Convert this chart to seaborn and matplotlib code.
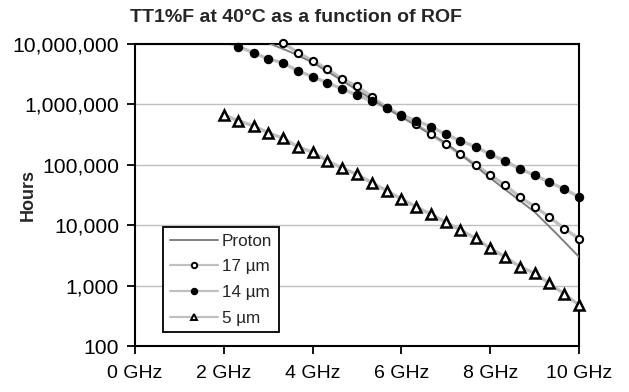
import matplotlib
matplotlib.use("Agg")
import matplotlib.pyplot as plt
from matplotlib.lines import Line2D
from matplotlib.ticker import FuncFormatter, FixedLocator, NullLocator
import seaborn as sns
import pandas as pd
import numpy as np

# ---- data ----
ghz_proton = [2.5, 3.0, 3.5, 4.0, 4.5, 5.0, 5.5, 6.0, 6.5, 7.0, 7.5, 8.0, 8.5, 9.0, 9.5, 10.0]
hours_proton = [19e6, 10.4e6, 7.38e6, 4.94e6, 2.95e6, 1.73e6, 1.02e6, 618e3, 377e3,
                230e3, 120e3, 60.4e3, 31.6e3, 16.6e3, 7.15e3, 2.99e3]

ghz_17 = [3.0, 3.33, 3.67, 4.0, 4.33, 4.67, 5.0, 5.33, 5.67, 6.0, 6.33, 6.67, 7.0,
          7.33, 7.67, 8.0, 8.33, 8.67, 9.0, 9.33, 9.67, 10.0]
hours_17 = [14e6, 10.5e6, 7.18e6, 5.29e6, 3.85e6, 2.63e6, 1.98e6, 1.35e6, 882e3, 650e3,
            470e3, 318e3, 219e3, 149e3, 100e3, 67.8e3, 46.3e3, 29.3e3, 20.2e3, 13.8e3,
            8.75e3, 5.98e3]

ghz_14 = [2.0, 2.33, 2.67, 3.0, 3.33, 3.67, 4.0, 4.33, 4.67, 5.0, 5.33, 5.67, 6.0,
          6.33, 6.67, 7.0, 7.33, 7.67, 8.0, 8.33, 8.67, 9.0, 9.33, 9.67, 10.0]
hours_14 = [11.3e6, 9.02e6, 7.18e6, 5.65e6, 4.9e6, 3.57e6, 2.87e6, 2.29e6, 1.8e6, 1.43e6,
            1.14e6, 872e3, 667e3, 537e3, 428e3, 318e3, 250e3, 199e3, 149e3, 116e3,
            85.2e3, 67.8e3, 51.3e3, 39.7e3, 29.3e3]

ghz_5 = [2.0, 2.33, 2.67, 3.0, 3.33, 3.67, 4.0, 4.33, 4.67, 5.0, 5.33, 5.67, 6.0,
         6.33, 6.67, 7.0, 7.33, 7.67, 8.0, 8.33, 8.67, 9.0, 9.33, 9.67, 10.0]
hours_5 = [667e3, 537e3, 439e3, 340e3, 275e3, 199e3, 161e3, 117e3, 87.5e3, 69.6e3,
           50.5e3, 37.3e3, 27.2e3, 20.2e3, 15.1e3, 11.2e3, 8.33e3, 6.07e3, 4.15e3,
           3.01e3, 2.06e3, 1.60e3, 1.09e3, 726, 477]

series_labels = ["Proton", "17 µm", "14 µm", "5 µm"]
title = "TT1%F at 40°C as a function of ROF"
y_label = "Hours"
x_ticks = [0, 2, 4, 6, 8, 10]
y_ticks = [100, 1000, 10000, 100000, 1000000, 10000000]

# ---- styling ----
sns.set_theme(style="white")
plt.rcParams["font.family"] = ["Liberation Sans", "DejaVu Sans"]

fig = plt.figure(figsize=(6.29, 3.92), dpi=100)
ax = fig.add_axes([135 / 629, 1 - 346 / 392, (579 - 135) / 629, (346 - 44) / 392])

LINE_GRAY = "#c0c0c0"
PROTON_GRAY = "#808080"

marker_series = [
    (ghz_17, hours_17, dict(marker="o", markerfacecolor="white", markeredgecolor="black",
                            markersize=5.2, markeredgewidth=1.5)),
    (ghz_14, hours_14, dict(marker="o", markerfacecolor="black", markeredgecolor="black",
                            markersize=5.8, markeredgewidth=1)),
    (ghz_5, hours_5, dict(marker="^", markerfacecolor="white", markeredgecolor="black",
                          markersize=6.5, markeredgewidth=1.8)),
]

# connecting lines (light gray)
for xs, ys, _ in marker_series:
    sns.lineplot(x=xs, y=ys, ax=ax, color=LINE_GRAY, linewidth=2.4, sort=False,
                 estimator=None, zorder=2)

# proton line
sns.lineplot(x=ghz_proton, y=hours_proton, ax=ax, color=PROTON_GRAY, linewidth=1.4,
             sort=False, estimator=None, zorder=3)

# markers (only for points inside the value range)
for xs, ys, mk in marker_series:
    df = pd.DataFrame({"x": xs, "y": ys})
    df = df[df["y"] <= 1.06e7]
    sns.lineplot(data=df, x="x", y="y", ax=ax, linestyle="none", sort=False,
                 estimator=None, zorder=4, clip_on=False, **mk)

ax.set_yscale("log")
ax.set_xlim(0, 10)
ax.set_ylim(100, 1e7)

ax.yaxis.set_major_locator(FixedLocator(y_ticks))
ax.yaxis.set_minor_locator(NullLocator())
ax.yaxis.set_major_formatter(FuncFormatter(lambda v, p: f"{int(round(v)):,}"))
ax.set_xticks(x_ticks)
ax.set_xticklabels([f"{t} GHz" for t in x_ticks])

ax.grid(axis="y", color="#c0c0c0", linewidth=1.0)
ax.grid(axis="x", visible=False)
ax.set_axisbelow(True)

for s in ax.spines.values():
    s.set_visible(True)
    s.set_color("black")
    s.set_linewidth(1.5)

ax.tick_params(axis="both", which="major", direction="out", length=5.5, width=1.3,
               color="black", labelsize=14, labelcolor="black")
ax.tick_params(axis="x", pad=8, bottom=True)
ax.tick_params(axis="y", pad=6, left=True, labelsize=15.2)

ax.set_xlabel("")
ax.set_ylabel(y_label, fontsize=13, fontweight="bold")
ax.yaxis.set_label_coords(-0.222, 0.5)

fig.text(296 / 629, 1 - 17 / 392, title, ha="center", va="center",
         fontsize=14, fontweight="bold")

# legend
handles = [Line2D([], [], color=PROTON_GRAY, linewidth=1.4)]
for _, _, mk in marker_series:
    mk2 = dict(mk)
    mk2["markersize"] = mk["markersize"] * 0.75
    mk2["markeredgewidth"] = min(mk["markeredgewidth"], 1.4)
    handles.append(Line2D([], [], color=LINE_GRAY, linewidth=1.6, **mk2))
leg = ax.legend(handles, series_labels, loc="upper left",
                bbox_to_anchor=((163 - 135) / 444, (346 - 227) / 302),
                fontsize=12.3, frameon=True, fancybox=False, framealpha=1,
                edgecolor="black", handlelength=2.8, handletextpad=0.25,
                borderpad=0.4, labelspacing=0.62, borderaxespad=0)
leg.get_frame().set_linewidth(1.3)

fig.savefig("out.png", dpi=100)
